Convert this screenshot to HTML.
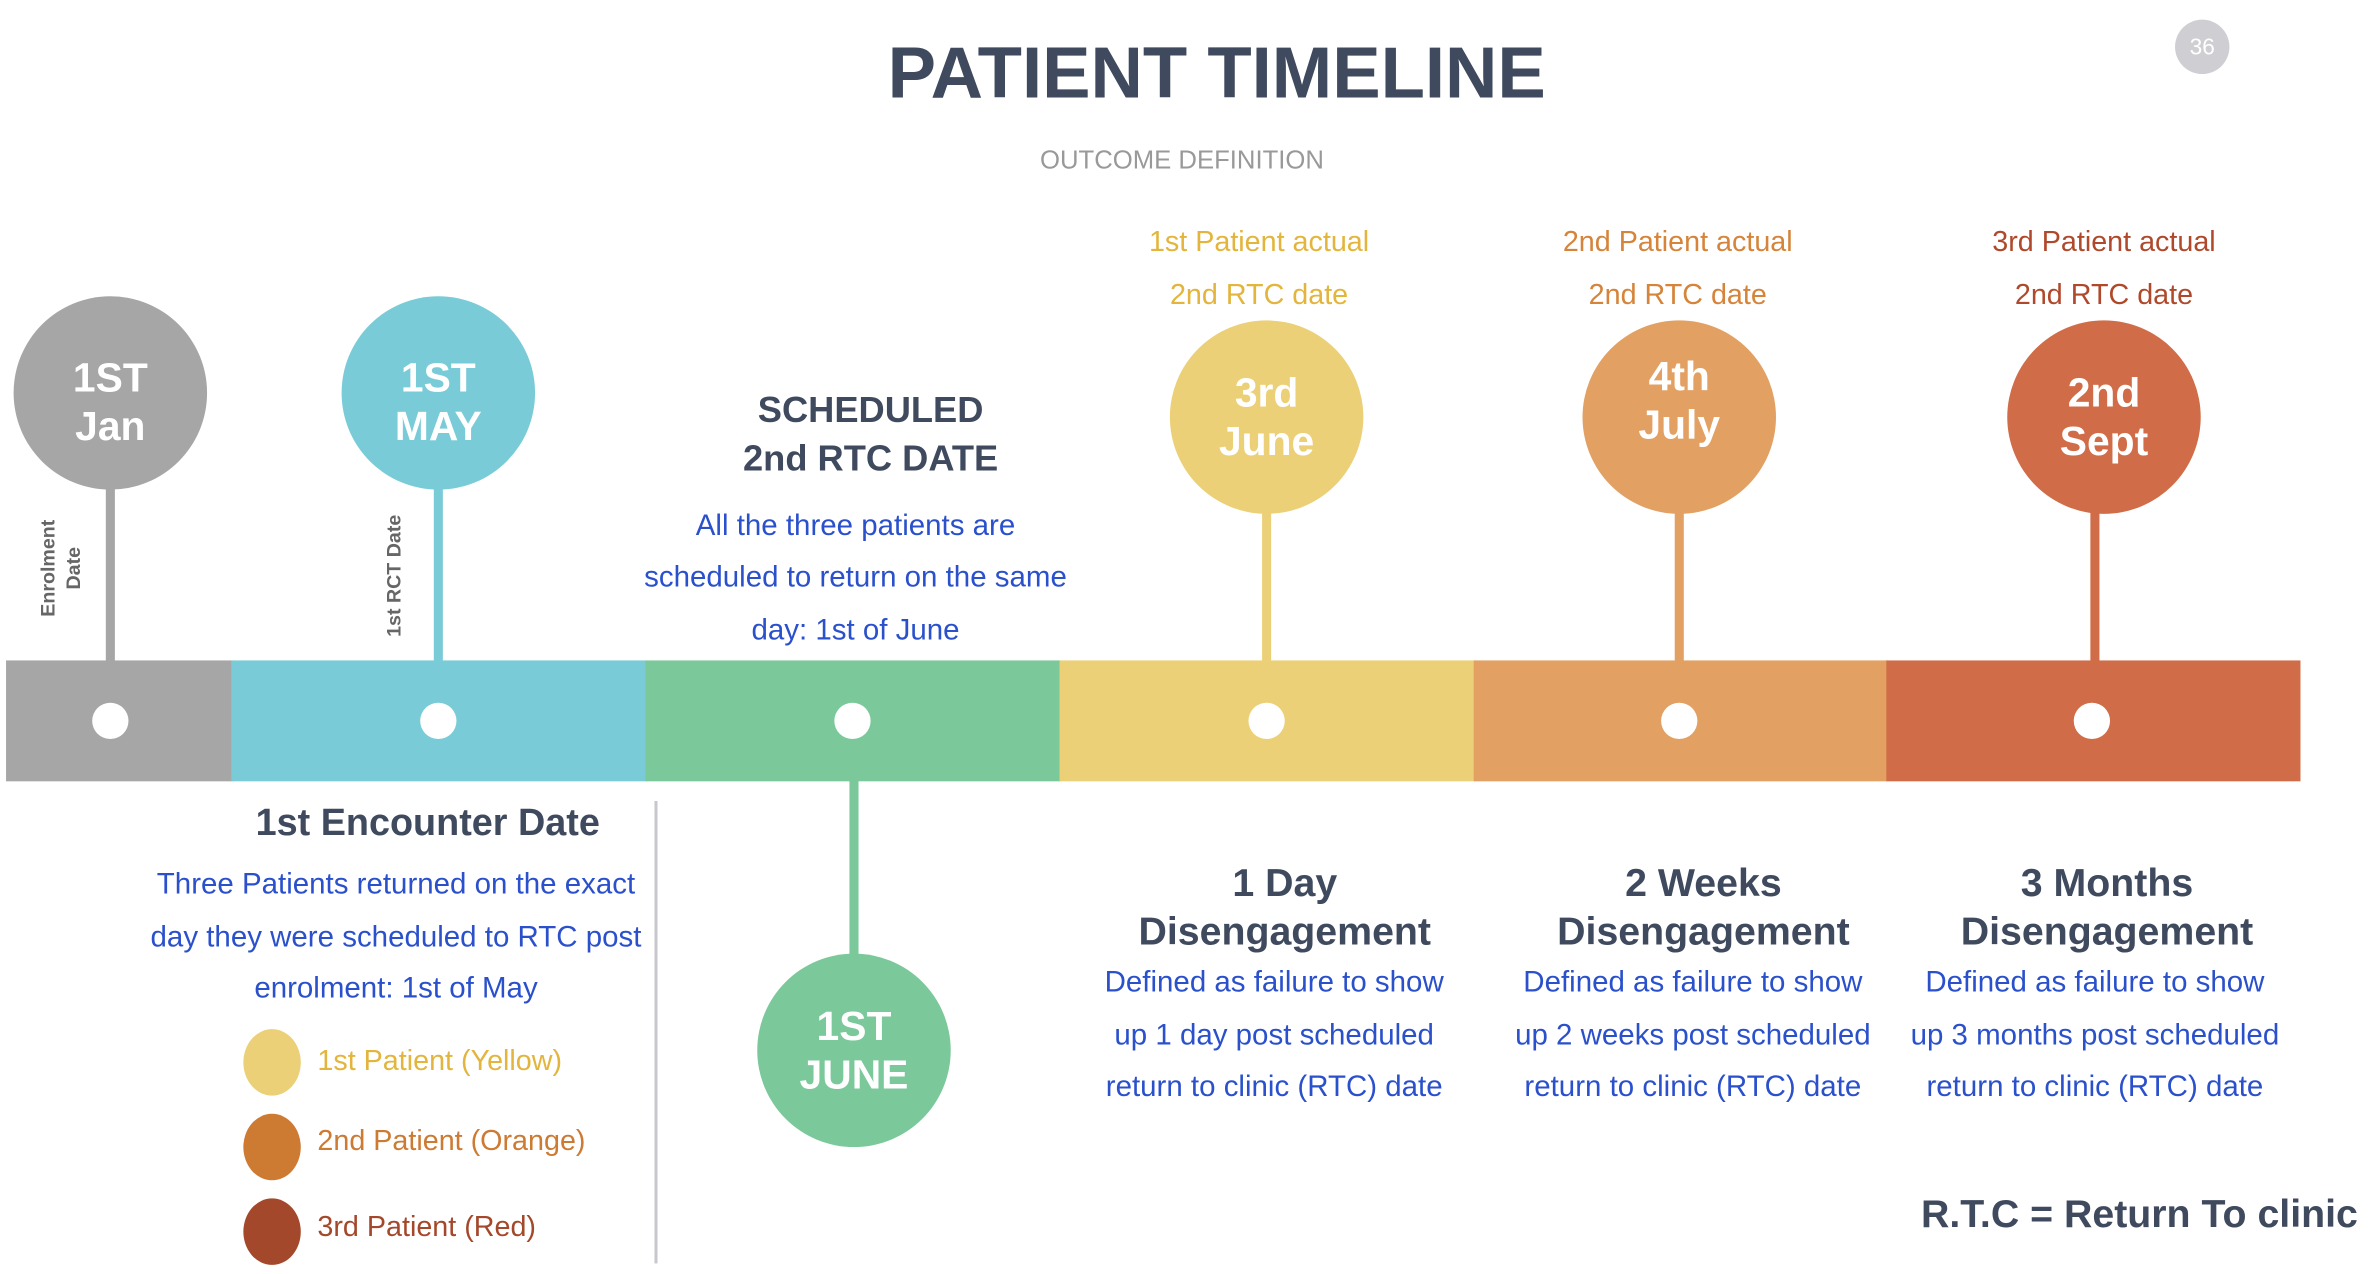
<!DOCTYPE html>
<html><head><meta charset="utf-8">
<style>
html,body{margin:0;padding:0;background:#fff;}
svg{display:block;}
text{font-family:"Liberation Sans",sans-serif;}
.w{fill:#fff;font-weight:bold;font-size:27px;text-anchor:middle;dominant-baseline:middle;}
.b{fill:#2a50cc;font-size:19.5px;text-anchor:middle;dominant-baseline:middle;}
.h{fill:#3f4a5e;font-weight:bold;text-anchor:middle;dominant-baseline:middle;}
</style></head>
<body>
<svg width="2370" height="1274" viewBox="0 0 1568 843" preserveAspectRatio="none" xmlns="http://www.w3.org/2000/svg">
  <text x="805" y="52" class="h" font-size="48">PATIENT TIMELINE</text>
  <text x="782" y="107" font-size="17" fill="#999" text-anchor="middle" dominant-baseline="middle">OUTCOME DEFINITION</text>
  <g>
    <circle cx="1457" cy="31" r="18" fill="#cfcfd3"/>
    <text x="1457" y="32" font-size="15" fill="#fff" text-anchor="middle" dominant-baseline="middle">36</text>
  </g>

  <g>
    <rect x="70" y="320" width="6" height="118" fill="#a6a6a6"/>
    <rect x="287" y="320" width="6" height="118" fill="#7acbd8"/>
    <rect x="835" y="336" width="6" height="102" fill="#ebd077"/>
    <rect x="1108" y="336" width="6" height="102" fill="#e2a063"/>
    <rect x="1383" y="336" width="6" height="102" fill="#d06d48"/>
    <rect x="562" y="516" width="6" height="118" fill="#7bc89a"/>
  </g>

  <g>
    <rect x="4" y="437" width="150" height="80" fill="#a6a6a6"/>
    <rect x="153" y="437" width="275" height="80" fill="#7acbd8"/>
    <rect x="427" y="437" width="275" height="80" fill="#7bc89a"/>
    <rect x="701" y="437" width="275" height="80" fill="#ebd077"/>
    <rect x="975" y="437" width="274" height="80" fill="#e2a063"/>
    <rect x="1248" y="437" width="274" height="80" fill="#d06d48"/>
    <g fill="#fff">
      <circle cx="73" cy="477" r="12"/><circle cx="290" cy="477" r="12"/><circle cx="564" cy="477" r="12"/>
      <circle cx="838" cy="477" r="12"/><circle cx="1111" cy="477" r="12"/><circle cx="1384" cy="477" r="12"/>
    </g>
  </g>

  <g>
    <circle cx="73" cy="260" r="64" fill="#a6a6a6"/>
    <text class="w" x="73" y="252">1ST</text><text class="w" x="73" y="284">Jan</text>
  </g>
  <g>
    <circle cx="290" cy="260" r="64" fill="#7acbd8"/>
    <text class="w" x="290" y="252">1ST</text><text class="w" x="290" y="284">MAY</text>
  </g>
  <g>
    <circle cx="838" cy="276" r="64" fill="#ebd077"/>
    <text class="w" x="838" y="262">3rd</text><text class="w" x="838" y="294">June</text>
  </g>
  <g>
    <circle cx="1111" cy="276" r="64" fill="#e2a063"/>
    <text class="w" x="1111" y="251">4th</text><text class="w" x="1111" y="283">July</text>
  </g>
  <g>
    <circle cx="1392" cy="276" r="64" fill="#d06d48"/>
    <text class="w" x="1392" y="262">2nd</text><text class="w" x="1392" y="294">Sept</text>
  </g>
  <g>
    <circle cx="565" cy="695" r="64" fill="#7bc89a"/>
    <text class="w" x="565" y="681">1ST</text><text class="w" x="565" y="713">JUNE</text>
  </g>

  <text transform="translate(36,376) rotate(-90)" font-size="13" font-weight="bold" fill="#666" text-anchor="middle"><tspan x="0" dy="0">Enrolment</tspan><tspan x="0" dy="17">Date</tspan></text>
  <text transform="translate(265,381) rotate(-90)" font-size="13" font-weight="bold" fill="#666" text-anchor="middle">1st RCT Date</text>

  <text class="h" x="576" y="273" font-size="24">SCHEDULED</text>
  <text class="h" x="576" y="305" font-size="24">2nd RTC  DATE</text>
  <g>
    <text class="b" x="566" y="349">All the three patients are</text>
    <text class="b" x="566" y="383">scheduled to return on the same</text>
    <text class="b" x="566" y="418">day:  1st of June</text>
  </g>

  <g font-size="19" fill="#e3b53c" text-anchor="middle" dominant-baseline="middle">
    <text x="833" y="161">1st Patient actual</text><text x="833" y="196">2nd RTC date</text>
  </g>
  <g font-size="19" fill="#d5843a" text-anchor="middle" dominant-baseline="middle">
    <text x="1110" y="161">2nd Patient actual</text><text x="1110" y="196">2nd RTC date</text>
  </g>
  <g font-size="19" fill="#b0492b" text-anchor="middle" dominant-baseline="middle">
    <text x="1392" y="161">3rd Patient actual</text><text x="1392" y="196">2nd RTC date</text>
  </g>

  <text class="h" x="283" y="546" font-size="25">1st Encounter Date</text>
  <g>
    <text class="b" x="262" y="586">Three Patients returned on the exact</text>
    <text class="b" x="262" y="621">day they were scheduled to RTC post</text>
    <text class="b" x="262" y="655">enrolment:  1st of May</text>
  </g>
  <rect x="433" y="530" width="2" height="306" fill="#c8c8cc"/>

  <g font-size="19" dominant-baseline="middle">
    <g><ellipse cx="180" cy="703" rx="19" ry="22" fill="#ebd077"/><text x="210" y="703" fill="#e3b53c">1st Patient (Yellow)</text></g>
    <g><ellipse cx="180" cy="759" rx="19" ry="22" fill="#cd7a33"/><text x="210" y="756" fill="#cd7a33">2nd Patient (Orange)</text></g>
    <g><ellipse cx="180" cy="815" rx="19" ry="22" fill="#a4482b"/><text x="210" y="813" fill="#a4482b">3rd Patient (Red)</text></g>
  </g>

  <g>
    <text class="h" x="850" y="586" font-size="26">1 Day</text>
    <text class="h" x="850" y="618" font-size="26">Disengagement</text>
    <text class="b" x="843" y="651">Defined as failure to show</text>
    <text class="b" x="843" y="686">up 1 day post scheduled</text>
    <text class="b" x="843" y="720">return to clinic (RTC) date</text>
  </g>
  <g>
    <text class="h" x="1127" y="586" font-size="26">2 Weeks</text>
    <text class="h" x="1127" y="618" font-size="26">Disengagement</text>
    <text class="b" x="1120" y="651">Defined as failure to show</text>
    <text class="b" x="1120" y="686">up 2 weeks post scheduled</text>
    <text class="b" x="1120" y="720">return to clinic (RTC) date</text>
  </g>
  <g>
    <text class="h" x="1394" y="586" font-size="26">3 Months</text>
    <text class="h" x="1394" y="618" font-size="26">Disengagement</text>
    <text class="b" x="1386" y="651">Defined as failure to show</text>
    <text class="b" x="1386" y="686">up 3 months  post scheduled</text>
    <text class="b" x="1386" y="720">return to clinic (RTC) date</text>
  </g>

  <text x="1560" y="805" font-size="26" font-weight="bold" fill="#3f4a5e" text-anchor="end" dominant-baseline="middle">R.T.C = Return To clinic</text>
</svg>
</body></html>
